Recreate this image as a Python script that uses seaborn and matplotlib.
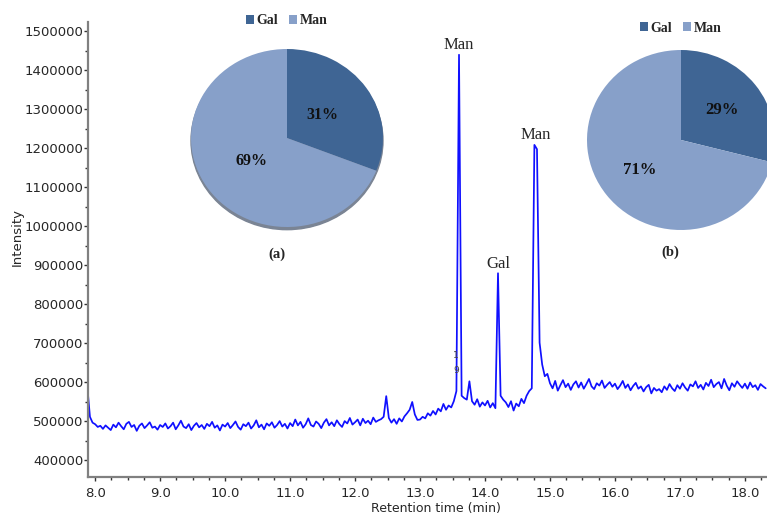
import numpy as np
import pandas as pd
import matplotlib
matplotlib.use("Agg")
import matplotlib.pyplot as plt
import seaborn as sns
from matplotlib.patches import Patch, Ellipse
from matplotlib.ticker import MultipleLocator, FuncFormatter

# chromatogram, intensity in thousands, sampled every 0.04 min from 7.88 min
signal_start = [588, 512, 497]
signal_08 = [493, 486, 489, 481, 490, 484, 478, 492, 485, 497, 488, 480, 494,
             499, 486, 491, 476, 489, 495, 483, 490, 498, 484, 487, 479]
signal_09 = [491, 486, 495, 482, 488, 497, 480, 490, 502, 487, 483, 493, 478,
             489, 496, 485, 491, 481, 494, 488, 499, 484, 490, 477, 492]
signal_10 = [487, 496, 483, 491, 500, 486, 479, 493, 488, 497, 482, 490, 503,
             485, 492, 480, 495, 489, 498, 484, 491, 501, 487, 494, 482]
signal_11 = [496, 488, 505, 490, 499, 484, 493, 508, 491, 487, 500, 494, 483,
             497, 506, 490, 498, 488, 503, 493, 486, 501, 495, 509, 492]
signal_12 = [498, 505, 490, 507, 496, 502, 493, 510, 499, 503, 506, 512, 565,
             509, 497, 506, 494, 508, 500, 513, 521, 530, 550, 518, 504]
signal_13 = [505, 512, 508, 521, 515, 527, 518, 533, 526, 545, 530, 541, 536,
             552, 578, 1440, 566, 560, 556, 603, 552, 543, 557, 538, 549]
signal_14 = [541, 553, 536, 547, 534, 880, 566, 556, 549, 537, 552, 528, 546,
             539, 558, 547, 566, 578, 585, 1209, 1198, 702, 646, 616, 622]
signal_15 = [598, 585, 604, 579, 593, 606, 588, 597, 581, 595, 603, 587, 600,
             584, 596, 609, 590, 583, 598, 592, 605, 586, 594, 601, 589]
signal_16 = [597, 583, 592, 604, 586, 595, 580, 591, 599, 584, 590, 577, 588,
             594, 572, 586, 579, 583, 575, 590, 581, 596, 585, 578, 593]
signal_17 = [584, 598, 587, 579, 595, 590, 603, 586, 594, 582, 599, 591, 607,
             588, 596, 601, 585, 609, 592, 580, 598, 589, 603, 594, 586]
signal_18 = [597, 584, 600, 588, 593, 581, 596, 590, 585]

peak_times = [13.60, 14.20, 14.78]
peak_labels = ["Man", "Gal", "Man"]

sugars = ["Gal", "Man"]
pie_a = [31, 69]
pie_b = [29, 71]
sugar_colors = ["#3F6594", "#87A0C9"]

signal = (signal_start + signal_08 + signal_09 + signal_10 + signal_11 + signal_12
          + signal_13 + signal_14 + signal_15 + signal_16 + signal_17 + signal_18)
df = pd.DataFrame({"time": np.round(7.88 + 0.04 * np.arange(len(signal)), 2),
                   "intensity": np.array(signal) * 1000.0})

sns.set_style("ticks")
plt.rcParams["font.family"] = ["DejaVu Sans"]
serif = ["Liberation Serif", "DejaVu Serif"]

fig = plt.figure(figsize=(7.67, 5.15), dpi=100)
ax = fig.add_axes([88 / 767, 1 - 477 / 515, 679 / 767, 455 / 515])

sns.lineplot(data=df, x="time", y="intensity", ax=ax, color="#1010ff", linewidth=1.25)

ax.set_xlim(7.89, 18.34)
ax.set_ylim(357700, 1524000)
ax.xaxis.set_major_locator(MultipleLocator(1))
ax.xaxis.set_minor_locator(MultipleLocator(0.25))
ax.yaxis.set_major_locator(MultipleLocator(100000))
ax.yaxis.set_minor_locator(MultipleLocator(50000))
ax.xaxis.set_major_formatter(FuncFormatter(lambda v, p: f"{v:.1f}"))
ax.yaxis.set_major_formatter(FuncFormatter(lambda v, p: f"{v:.0f}"))
ax.tick_params(axis="both", which="major", labelsize=9.5, length=3, width=1, color="#333333")
ax.tick_params(axis="both", which="minor", length=2, width=1, color="#333333")
ax.tick_params(axis="y", which="major", pad=0.5)
ax.tick_params(axis="x", which="major", pad=4)
for side in ["top", "right"]:
    ax.spines[side].set_visible(False)
for side in ["left", "bottom"]:
    ax.spines[side].set_color("#808080")
    ax.spines[side].set_linewidth(1.6)

ax.set_xlabel("Retention time (min)", fontsize=9)
ax.set_ylabel("Intensity", fontsize=9.5)
ax.xaxis.set_label_coords(0.512, -0.055)
ax.yaxis.set_label_coords(-0.094, 0.527)

# peak names above each peak
for t, lab in zip(peak_times, peak_labels):
    win = df[(df["time"] > t - 0.05) & (df["time"] < t + 0.05)]
    top = win["intensity"].max()
    ax.annotate(lab, xy=(t, top), xytext=(0, 1), textcoords="offset points",
                ha="center", va="bottom", fontsize=12, family=serif)

# small integration marks near the first peak
ax.text(13.55, 670000, "1", fontsize=6.5, color="#444444", ha="center", va="center")
ax.text(13.56, 630000, "9", fontsize=6.5, color="#444444", ha="center", va="center")

handles = [Patch(facecolor=c, edgecolor="none") for c in sugar_colors]
legend_font = {"family": serif, "weight": "bold", "size": 10}

# pie (a)
pa = fig.add_axes([191 / 767, 288 / 515, 192 / 767, 178 / 515])
pa.add_patch(Ellipse((0, -0.03), 2.0, 2.0, color="#7a8494", zorder=0, clip_on=False))
pa.pie(pie_a, colors=sugar_colors, startangle=90, counterclock=False,
       autopct="%1.0f%%", pctdistance=0.45, wedgeprops={"linewidth": 0},
       textprops={"family": serif, "weight": "bold", "size": 11.5, "color": "#111111"})
pa.set_xlim(-1, 1)
pa.set_ylim(-1, 1)
pa.set_aspect("auto")
pa.axis("off")
pa.legend(handles, sugars, loc="center", bbox_to_anchor=(0.5, 1 + 28 / 178), ncol=2,
          frameon=False, prop=legend_font, handlelength=0.55, handleheight=0.55,
          handletextpad=0.2, columnspacing=0.8, borderpad=0)
pa.text(0.448, -0.152, "(a)", transform=pa.transAxes, ha="center", va="center",
        family=serif, weight="bold", size=10.5)

# pie (b)
pb = fig.add_axes([587 / 767, 285 / 515, 188 / 767, 180 / 515])
pb.pie(pie_b, colors=sugar_colors, startangle=90, counterclock=False,
       autopct="%1.0f%%", pctdistance=0.55, wedgeprops={"linewidth": 0},
       textprops={"family": serif, "weight": "bold", "size": 12, "color": "#111111"})
pb.set_xlim(-1, 1)
pb.set_ylim(-1, 1)
pb.set_aspect("auto")
pb.axis("off")
pb.legend(handles, sugars, loc="center", bbox_to_anchor=(0.5, 1 + 22 / 180), ncol=2,
          frameon=False, prop=legend_font, handlelength=0.55, handleheight=0.55,
          handletextpad=0.2, columnspacing=0.8, borderpad=0)
pb.text(0.441, -0.122, "(b)", transform=pb.transAxes, ha="center", va="center",
        family=serif, weight="bold", size=10.5)

fig.savefig("out.png", dpi=100)
